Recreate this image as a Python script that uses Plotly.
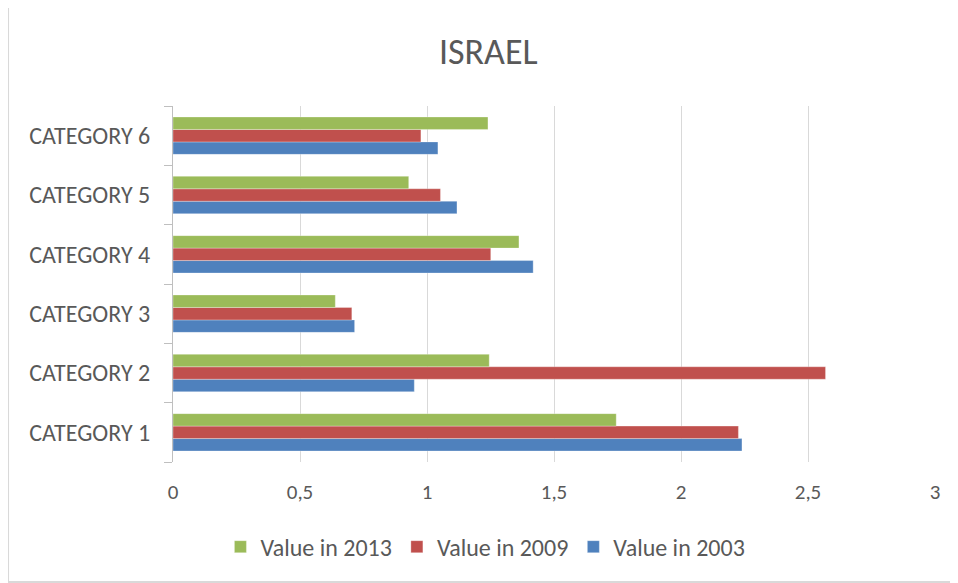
import plotly.graph_objects as go

# data
categories = ["CATEGORY 1", "CATEGORY 2", "CATEGORY 3", "CATEGORY 4", "CATEGORY 5", "CATEGORY 6"]
value_2003 = [2.24, 0.95, 0.715, 1.418, 1.118, 1.043]
value_2009 = [2.226, 2.569, 0.704, 1.251, 1.053, 0.976]
value_2013 = [1.745, 1.245, 0.639, 1.362, 0.928, 1.24]
x_ticks = [0, 0.5, 1, 1.5, 2, 2.5, 3]

FONT = "Carlito, Calibri, Lato, sans-serif"
TEXT = "#595959"
BORDER = "#D9D9D9"

fig = go.Figure()
for name, vals, color in [
    ("Value in 2003", value_2003, "#4F81BD"),
    ("Value in 2009", value_2009, "#C0504D"),
    ("Value in 2013", value_2013, "#9BBB59"),
]:
    fig.add_trace(go.Bar(
        y=categories,
        x=vals,
        name=name,
        orientation="h",
        marker=dict(color=color, line=dict(color="rgba(255,255,255,0.6)", width=0.5)),
    ))

# chart frame: left, top and bottom edges only (right edge is off-picture)
x_left, x_right, y_bot, y_top = -0.2165, 1.2, -0.337, 1.278
frame = [
    dict(type="line", xref="paper", yref="paper", x0=x_left, x1=x_left, y0=y_bot, y1=y_top,
         line=dict(color=BORDER, width=2)),
    dict(type="line", xref="paper", yref="paper", x0=x_left, x1=x_right, y0=y_top, y1=y_top,
         line=dict(color=BORDER, width=2)),
    dict(type="line", xref="paper", yref="paper", x0=x_left, x1=x_right, y0=y_bot, y1=y_bot,
         line=dict(color=BORDER, width=2)),
]

# the page body adds ~7px, so size/margins are shifted to compensate
fig.update_layout(
    width=951,
    height=576,
    barmode="group",
    bargap=0.37,
    bargroupgap=0,
    separators=", ",
    paper_bgcolor="white",
    plot_bgcolor="white",
    font=dict(family=FONT, color=TEXT),
    margin=dict(l=165, r=24, t=98, b=122),
    title=dict(
        text="ISRAEL",
        x=0.505, xanchor="center",
        y=0.924, yanchor="middle",
        font=dict(size=36, family=FONT, color=TEXT),
    ),
    xaxis=dict(
        range=[0, 3],
        tickvals=x_ticks,
        showgrid=True,
        gridcolor="#D9D9D9",
        gridwidth=1,
        zeroline=False,
        showline=False,
        ticks="",
        ticklabelstandoff=15,
        tickfont=dict(size=21, family=FONT, color=TEXT),
    ),
    yaxis=dict(
        showline=True,
        linecolor="#BFBFBF",
        linewidth=1,
        ticks="outside",
        tickson="boundaries",
        ticklen=8,
        tickcolor="#BFBFBF",
        ticklabelstandoff=17,
        tickfont=dict(size=24, family=FONT, color=TEXT),
    ),
    legend=dict(
        orientation="h",
        traceorder="reversed",
        x=0.41, xanchor="center",
        y=-0.239, yanchor="middle",
        font=dict(size=24, family=FONT, color=TEXT),
    ),
    shapes=frame,
)

fig.write_html("out.html")
